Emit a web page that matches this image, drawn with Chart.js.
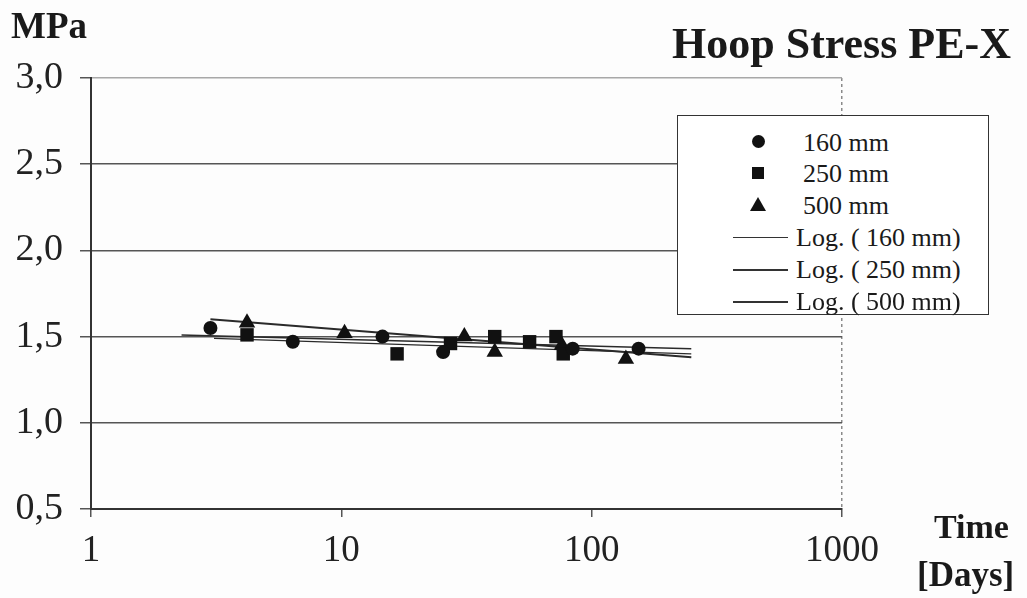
<!DOCTYPE html>
<html>
<head>
<meta charset="utf-8">
<title>Hoop Stress PE-X</title>
<script src="https://cdn.jsdelivr.net/npm/chart.js@4"></script>
<style>
  body{margin:0;background:#fdfdfd;font-family:'Liberation Serif','Times New Roman',serif;color:#1a1a1a}
  #wrap{position:relative;width:1027px;height:598px;overflow:hidden}
  canvas{position:absolute;left:0;top:0}
  .lbl{position:absolute;font-weight:bold;white-space:nowrap;line-height:1}
  #legend{position:absolute;left:677px;top:115px;width:312px;height:200px;border:1.5px solid #333;background:#fff;box-sizing:border-box}
  .row{position:absolute;left:0;height:30px;display:flex;align-items:center;font-size:26px;white-space:nowrap}
  .mk{position:absolute;left:74px;background:#111}
  .sw{position:absolute;left:55px;width:55px;background:#333}
  .txt{position:absolute}
</style>
</head>
<body>
<div id="wrap">
  <canvas id="stressChart" width="1027" height="598"></canvas>
  <div class="lbl" style="left:11px;top:7px;font-size:37px">MPa</div>
  <div class="lbl" style="left:672px;top:22px;font-size:44px">Hoop Stress PE-X</div>
  <div class="lbl" style="left:934px;top:510px;font-size:34px">Time</div>
  <div class="lbl" style="left:917px;top:557px;font-size:35px">[Days]</div>
  <div id="legend"></div>
</div>
<script>
// measured hoop stress, time in days vs MPa
const days160 = [3, 6.4, 14.6, 25.5, 84, 154];
const mpa160  = [1.55, 1.47, 1.50, 1.41, 1.43, 1.43];
const days250 = [4.2, 16.7, 27.3, 41, 56.5, 72, 77];
const mpa250  = [1.51, 1.40, 1.46, 1.50, 1.47, 1.50, 1.40];
const days500 = [4.2, 10.3, 31, 41, 76, 137];
const mpa500  = [1.58, 1.52, 1.50, 1.41, 1.45, 1.37];

// logarithmic trend lines (start / end)
const log160Days = [3.1, 250];
const log160Mpa  = [1.49, 1.40];
const log250Days = [2.3, 250];
const log250Mpa  = [1.51, 1.43];
const log500Days = [3, 250];
const log500Mpa  = [1.60, 1.38];

const xTicks = [1, 10, 100, 1000];
const yTicks = [0.5, 1.0, 1.5, 2.0, 2.5, 3.0];

const seriesNames = ['160 mm', '250 mm', '500 mm', 'Log. ( 160 mm)', 'Log. ( 250 mm)', 'Log. ( 500 mm)'];

const pts = (xs, ys) => xs.map((x, i) => ({x, y: ys[i]}));

function markerSet(label, xs, ys, style, r){
  return {label, data: pts(xs, ys), showLine:false, pointStyle:style, pointRadius:r, pointHoverRadius:r,
    backgroundColor:'#111', borderColor:'#111', borderWidth:0, order:0};
}
function trendSet(label, xs, ys, w){
  return {label, data: pts(xs, ys), showLine:true, pointRadius:0, borderColor:'#2a2a2a', borderWidth:w, fill:false, order:1};
}

Chart.defaults.font.family = "'Liberation Serif','Times New Roman',serif";

new Chart(document.getElementById('stressChart').getContext('2d'), {
  type:'scatter',
  data:{datasets:[
    markerSet(seriesNames[0], days160, mpa160, 'circle', 7),
    markerSet(seriesNames[1], days250, mpa250, 'rect', 9.5),
    markerSet(seriesNames[2], days500, mpa500, 'triangle', 9.5),
    trendSet(seriesNames[3], log160Days, log160Mpa, 1.2),
    trendSet(seriesNames[4], log250Days, log250Mpa, 1.5),
    trendSet(seriesNames[5], log500Days, log500Mpa, 2)
  ]},
  options:{
    responsive:false,
    animation:false,
    layout:{padding:{left:0, right:185, top:78, bottom:0}},
    plugins:{legend:{display:false}, tooltip:{enabled:false}},
    scales:{
      x:{
        type:'logarithmic', min:1, max:1000,
        afterBuildTicks: s => { s.ticks = xTicks.map(v => ({value:v})); },
        afterFit: s => { s.height = 89; },
        ticks:{callback: v => String(v), font:{size:37}, color:'#222', padding:12, maxRotation:0, autoSkip:false},
        grid:{color: c => (c.tick && c.tick.value === 1000) ? '#8a8a8a' : 'rgba(0,0,0,0)', lineWidth:1.5,
              tickColor:'#555', tickWidth:1.5, tickLength:8},
        border:{color:'#333', width:2, dash: c => (c.tick && c.tick.value === 1000) ? [3,3] : []}
      },
      y:{
        min:0.5, max:3,
        afterBuildTicks: s => { s.ticks = yTicks.map(v => ({value:v})); },
        afterFit: s => { s.width = 91; },
        ticks:{callback: v => v.toFixed(1).replace('.', ','), font:{size:38}, color:'#222', padding:17},
        grid:{color: c => (c.tick && c.tick.value === 3) ? '#a8a8a8' : '#555', lineWidth:1.5,
              tickColor:'#555', tickWidth:1.5, tickLength:11},
        border:{color:'#333', width:2}
      }
    }
  }
});

// legend box
const legend = document.getElementById('legend');
const rowTops = [11, 42, 74, 106, 138, 170];
seriesNames.forEach((name, i) => {
  const row = document.createElement('div');
  row.className = 'row';
  row.style.top = rowTops[i] + 'px';
  row.style.width = '100%';
  let mark = '';
  if(i === 0) mark = '<div class="mk" style="width:13px;height:13px;border-radius:50%;top:8px"></div>';
  if(i === 1) mark = '<div class="mk" style="width:12px;height:12px;top:9px"></div>';
  if(i === 2) mark = '<div class="mk" style="width:0;height:0;background:none;border-left:8px solid transparent;border-right:8px solid transparent;border-bottom:14px solid #111;left:72px;top:7px"></div>';
  if(i >= 3) mark = `<div class="sw" style="height:${[1.2,1.5,2][i-3]}px;top:15px"></div>`;
  const left = i < 3 ? 125 : 118;
  row.innerHTML = mark + `<span class="txt" style="left:${left}px;top:1px">${name}</span>`;
  legend.appendChild(row);
});
</script>
</body>
</html>
